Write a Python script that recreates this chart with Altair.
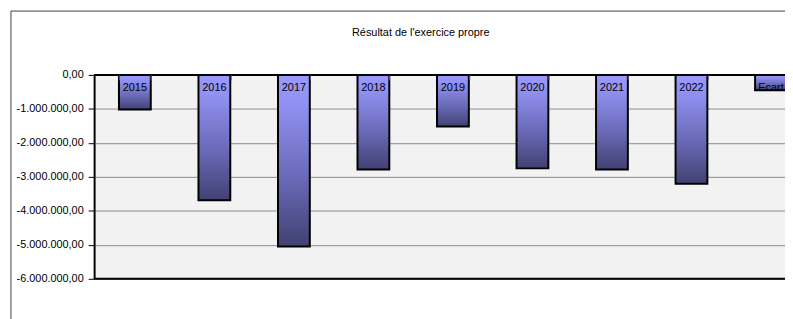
import altair as alt
import pandas as pd

categories = ["2015", "2016", "2017", "2018", "2019", "2020", "2021", "2022", "Ecart"]
values = [-1020000, -3690000, -5050000, -2780000, -1520000, -2750000, -2780000, -3200000, -450000]
y_ticks = [0, -1000000, -2000000, -3000000, -4000000, -5000000, -6000000]
title_text = "Résultat de l'exercice propre"

df = pd.DataFrame({"cat": categories, "val": values})

FONT = "Liberation Sans"

xscale = alt.Scale(domain=categories, range=[1, 724], paddingInner=0.6, paddingOuter=0.3)
yscale = alt.Scale(domain=[-6000000, 0], nice=False, zero=False)

x_axis = alt.Axis(orient="top", labels=False, domain=False, title=None,
                  ticks=True, tickBand="extent", tickSize=5, offset=-5,
                  tickColor="#606060", tickWidth=1, grid=False, zindex=1)
y_axis = alt.Axis(values=y_ticks, format=",.2f", grid=True, gridColor="#8c8c8c",
                  gridWidth=1, domain=True, domainColor="#000000", domainWidth=2,
                  tickColor="#000000", tickSize=6, tickWidth=1, labelPadding=5,
                  labelOverlap=False, labelFont=FONT, labelFontSize=11,
                  labelColor="#000000", title=None)

base = alt.Chart(df)

grad = alt.Gradient(
    gradient="linear",
    stops=[
        alt.GradientStop(color="#9a9aff", offset=0),
        alt.GradientStop(color="#9292f4", offset=0.15),
        alt.GradientStop(color="#6a6ab8", offset=0.6),
        alt.GradientStop(color="#414172", offset=1),
    ],
    x1=0, x2=0, y1=0, y2=1,
)

bars = base.mark_bar(fill=grad, stroke="#000000", strokeWidth=2).encode(
    x=alt.X("cat:N", scale=xscale, sort=categories, axis=x_axis),
    y=alt.Y("val:Q", scale=yscale, axis=y_axis),
    y2=alt.datum(0),
)

labels = base.mark_text(font=FONT, fontSize=11, color="#000000", dy=13, align="center",
                        baseline="middle").encode(
    x=alt.X("cat:N", scale=xscale, sort=categories, axis=x_axis),
    y=alt.Y("zero:Q", scale=yscale, axis=y_axis),
    text="cat:N",
).transform_calculate(zero="0")

rules_df = pd.DataFrame({"val": [0, -6000000]})
border_rules = alt.Chart(rules_df).mark_rule(color="#000000", strokeWidth=2).encode(
    y=alt.Y("val:Q", scale=yscale, axis=y_axis)
)

title_mark = alt.Chart(pd.DataFrame({"t": [title_text]})).mark_text(
    font=FONT, fontSize=11, color="#000000", align="center", baseline="middle"
).encode(
    x=alt.value(330), y=alt.value(-42.5), text="t:N"
)

frame_left = alt.Chart(pd.DataFrame({"a": [0]})).mark_rule(color="#404040", strokeWidth=1).encode(
    x=alt.value(-84), y=alt.value(-64.5), y2=alt.value(260)
)
frame_top = alt.Chart(pd.DataFrame({"a": [0]})).mark_rule(color="#404040", strokeWidth=1).encode(
    x=alt.value(-84), x2=alt.value(700), y=alt.value(-64.5)
)
edge_left = alt.Chart(pd.DataFrame({"a": [0]})).mark_rule(color="#505050", strokeWidth=1.5).encode(
    x=alt.value(-94.3), y=alt.value(-74), y2=alt.value(182)
)

chart = alt.layer(bars, labels, border_rules, title_mark,
                  frame_left, frame_top, edge_left).properties(
    width=698,
    height=206,
    autosize=alt.AutoSizeParams(type="none"),
    padding={"left": 87, "top": 66, "right": 0, "bottom": 39},
).configure(
    background="#ffffff",
    view={"fill": "#f2f2f2", "stroke": None},
    locale={"number": {"decimal": ",", "thousands": ".", "grouping": [3],
                       "currency": ["", " €"], "minus": "-"}},
)

chart.save("out.html", embed_options={"renderer": "svg", "actions": False})
